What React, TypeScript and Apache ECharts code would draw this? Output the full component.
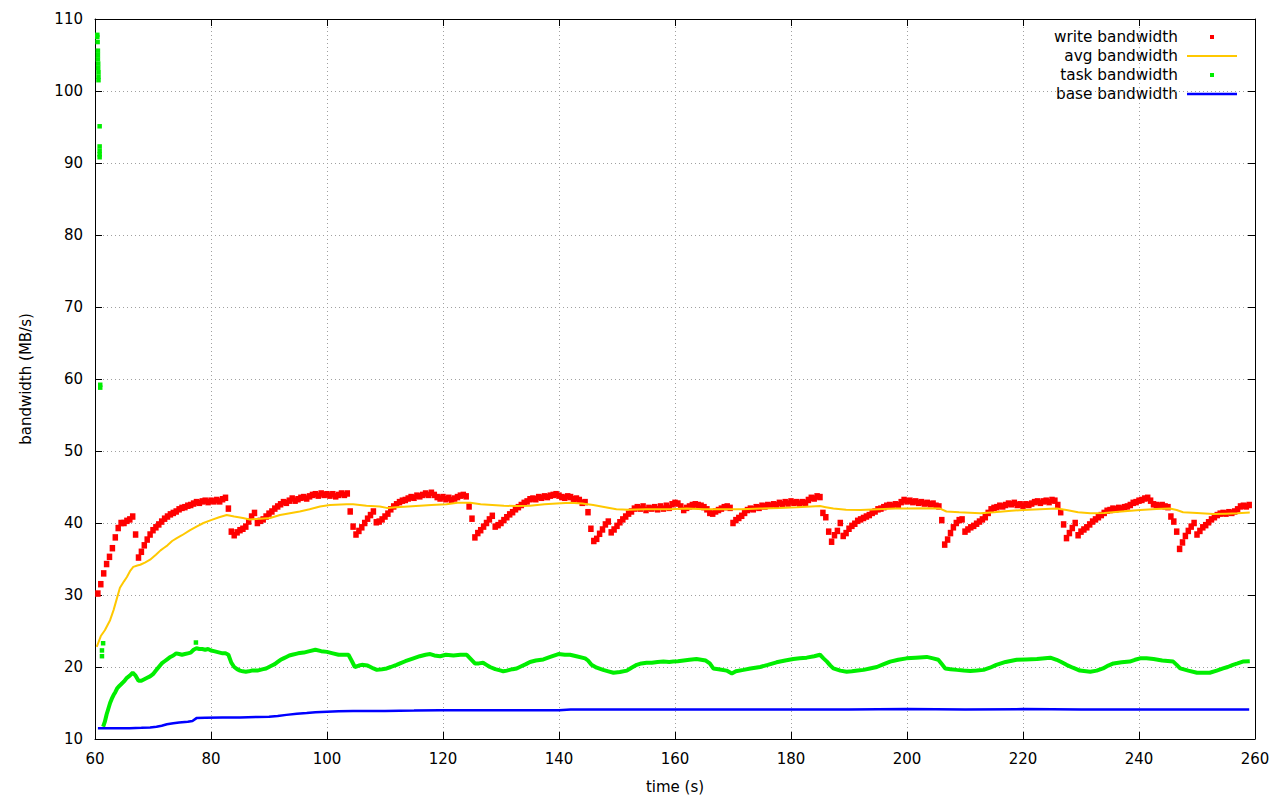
import React, { useEffect, useRef } from "react";
import * as echarts from "echarts";

// ---- data ----
const xTicks = { min: 60, max: 260, interval: 20 };
const yTicks = { min: 10, max: 110, interval: 10 };

// write bandwidth (MB/s), one sample every 0.5 s starting at 60.5 s
const writeStart = 60.5;
const writeStep = 0.5;
const writeBandwidth = [
  30.2, 31.5, 33.0, 34.3, 35.3, 36.5, 38.0, 39.3, 40.0, 40.0, 40.3, 40.5, 40.9, 38.4, 35.2, 36.0,
  36.9, 37.7, 38.4, 39.0, 39.4, 39.8, 40.2, 40.6, 40.9, 41.2, 41.4, 41.6, 41.9, 42.1, 42.2, 42.4,
  42.5, 42.7, 42.9, 42.8, 43.0, 43.1, 42.9, 43.1, 43.0, 43.2, 43.0, 43.3, 43.5, 42.0, 38.8, 38.3,
  38.7, 39.0, 39.2, 39.5, 40.2, 40.9, 41.4, 40.0, 40.3, 40.5, 40.9, 41.3, 41.6, 42.0, 42.3, 42.6,
  42.9, 42.8, 43.1, 43.4, 43.1, 43.3, 43.5, 43.6, 43.4, 43.7, 43.9, 44.0, 43.8, 44.1, 43.9, 44.0,
  43.8, 44.0, 43.7, 43.9, 44.1, 43.9, 44.1, 41.6, 39.5, 38.4, 38.9, 39.4, 40.0, 40.6, 41.1, 41.6,
  40.1, 40.2, 40.5, 40.9, 41.3, 41.9, 42.3, 42.6, 42.9, 43.1, 43.2, 43.4, 43.6, 43.5, 43.8, 43.7,
  43.9, 44.1, 43.9, 44.2, 43.9, 43.6, 43.4, 43.6, 43.3, 43.5, 43.2, 43.4, 43.6, 43.8, 43.9, 43.7,
  42.3, 40.6, 38.0, 38.6, 39.0, 39.5, 40.0, 40.5, 41.0, 39.5, 39.7, 40.0, 40.4, 40.8, 41.2, 41.5,
  41.9, 42.2, 42.5, 42.8, 43.0, 43.3, 43.4, 43.3, 43.6, 43.5, 43.7, 43.6, 43.8, 43.9, 44.0, 43.8,
  43.6, 43.5, 43.7, 43.6, 43.3, 43.4, 43.2, 42.8, 42.9, 41.5, 39.2, 37.5, 37.8, 38.5, 39.1, 39.8,
  40.2, 38.7, 39.1, 39.6, 40.1, 40.5, 40.9, 41.3, 41.6, 42.0, 42.2, 42.0, 42.3, 41.8, 42.1, 42.0,
  42.2, 41.9, 42.3, 42.0, 42.4, 42.1, 42.6, 42.8, 42.7, 42.3, 41.8, 42.1, 42.3, 42.5, 42.6, 42.5,
  42.4, 42.2, 41.9, 41.4, 41.3, 41.6, 41.8, 42.0, 42.2, 42.3, 42.1, 40.0, 40.4, 40.7, 41.0, 41.4,
  41.8, 42.0, 41.9, 42.2, 42.1, 42.4, 42.3, 42.5, 42.4, 42.6, 42.5, 42.8, 42.6, 42.9, 42.7, 43.0,
  42.8, 42.9, 42.7, 42.9, 42.8, 43.2, 43.5, 43.4, 43.7, 43.6, 41.4, 40.8, 38.8, 37.4, 38.3, 38.9,
  40.0, 38.2, 38.6, 39.2, 39.6, 39.9, 40.3, 40.5, 40.7, 40.9, 41.1, 41.4, 41.6, 41.9, 42.0, 42.2,
  42.4, 42.5, 42.4, 42.6, 42.5, 42.9, 43.2, 43.0, 43.1, 42.9, 43.0, 42.8, 42.9, 42.7, 42.8, 42.6,
  42.7, 42.4, 42.3, 40.4, 37.0, 37.7, 38.6, 39.4, 40.0, 40.4, 40.5, 38.8, 39.1, 39.4, 39.6, 39.9,
  40.2, 40.5, 40.8, 41.4, 41.9, 42.1, 42.2, 42.4, 42.3, 42.5, 42.7, 42.6, 42.8, 42.5, 42.6, 42.4,
  42.6, 42.5, 42.7, 42.9, 43.0, 42.8, 43.0, 43.1, 42.9, 43.2, 43.1, 42.5, 41.5, 39.8, 37.9, 38.6,
  39.3, 40.0, 38.3, 38.8, 39.1, 39.4, 39.8, 40.2, 40.5, 40.8, 41.1, 41.4, 41.7, 41.8, 42.0, 41.9,
  42.1, 42.0, 42.2, 42.3, 42.5, 42.8, 42.9, 43.1, 43.2, 43.4, 43.5, 43.1, 42.6, 42.5, 42.4, 42.5,
  42.3, 42.2, 40.9, 40.2, 38.8, 36.4, 37.3, 38.2, 38.9, 39.5, 40.0, 38.4, 38.9, 39.4, 39.7, 40.1,
  40.5, 40.8, 41.1, 41.3, 41.4, 41.3, 41.5, 41.4, 41.6, 41.9, 42.3, 42.4, 42.3, 42.5,
];

// avg bandwidth: [time s, MB/s]
const avgBandwidth = [
  [60.3, 22.8], [61, 24.3], [61.7, 25.1], [62.6, 26.5], [63.2, 27.9], [63.8, 29.6], [64.3, 31.0],
  [65, 31.9], [65.5, 32.5], [66.1, 33.4], [66.6, 33.9], [67.3, 34.1], [67.8, 34.2], [68.6, 34.5],
  [69.5, 34.9], [70.5, 35.6], [71.3, 36.2], [71.8, 36.5], [72.5, 36.9], [73.3, 37.5], [74.1, 37.9],
  [75, 38.3], [76.4, 39.0], [77.5, 39.5], [78.7, 40.0], [80, 40.4], [81.4, 40.8], [82.7, 41.1],
  [84, 40.9], [85.5, 40.7], [86.7, 40.5], [88.5, 40.6], [90.2, 40.7], [91.9, 41.1], [93.6, 41.35],
  [95.3, 41.6], [97, 41.9], [98.8, 42.3], [100.5, 42.5], [103.4, 42.6], [104.5, 42.6], [106.8, 42.4],
  [109.1, 42.3], [110.3, 42.1], [112, 42.2], [114, 42.3], [116, 42.4], [118, 42.5], [120.6, 42.6],
  [122.5, 42.8], [124.7, 42.8], [126.5, 42.6], [128.5, 42.5], [130.5, 42.4], [132.7, 42.35],
  [135, 42.4], [137.5, 42.6], [139.6, 42.7], [141.9, 42.8], [144, 42.7], [145.9, 42.5], [148, 42.2],
  [149.9, 41.9], [152, 41.85], [155, 41.9], [159.1, 41.9], [162, 42.0], [165, 41.9], [168.9, 41.9],
  [171.5, 41.9], [174.7, 42.0], [178, 42.1], [181, 42.2], [183.5, 42.3], [185, 42.35], [186, 42.2],
  [187.3, 42.0], [189.5, 41.85], [192, 41.8], [195, 41.9], [198, 42.0], [200, 42.0], [203, 42.05],
  [205.7, 42.0], [206.8, 41.6], [209, 41.5], [212.6, 41.35], [215, 41.5], [218, 41.7], [220.1, 41.8],
  [222.9, 41.9], [225.8, 42.0], [227.5, 41.8], [229.5, 41.5], [231.6, 41.35], [234, 41.4],
  [237, 41.6], [240.2, 41.8], [243, 41.95], [245.3, 42.0], [246.5, 41.8], [247.6, 41.5], [250, 41.4],
  [252.8, 41.25], [255, 41.3], [257, 41.35], [259.1, 41.45],
];

// task bandwidth: early outliers [time s, MB/s]
const taskOutliers = [
  [60.4, 107.8], [60.4, 107.5], [60.45, 106.8], [60.5, 105.6], [60.5, 105.0], [60.5, 104.4],
  [60.55, 103.8], [60.55, 103.2], [60.6, 102.6], [60.6, 102.0], [60.6, 101.5], [60.8, 95.1],
  [60.8, 92.3], [60.8, 91.7], [60.8, 91.2], [60.8, 90.8], [60.9, 59.2], [60.9, 58.8],
  [61.4, 23.3], [61.2, 22.3], [61.2, 21.5],
];

// task bandwidth: main trace [time s, MB/s]
const taskBandwidth = [
  [61.4, 11.7], [61.7, 12.4], [62.0, 13.4], [62.3, 14.2], [62.6, 15.0], [62.9, 15.6], [63.2, 16.1],
  [63.5, 16.5], [63.8, 17.0], [64.1, 17.3], [64.5, 17.6], [65.0, 18.0], [65.5, 18.5], [66.0, 18.8],
  [66.5, 19.2], [67.0, 18.8], [67.5, 18.1], [68.0, 18.1], [68.5, 18.3], [69.0, 18.5], [69.5, 18.7],
  [70.0, 19.0], [70.5, 19.5], [71.0, 20.0], [71.5, 20.5], [72.0, 20.8], [72.5, 21.1], [73.0, 21.4],
  [73.5, 21.6], [74.0, 21.9], [74.5, 21.8], [75.0, 21.7], [75.5, 21.8], [76.0, 21.9], [76.5, 22.0],
  [77.0, 22.4], [77.5, 22.6], [78.0, 22.5], [78.5, 22.5], [79.0, 22.4], [79.5, 22.5], [80.0, 22.3],
  [80.5, 22.2], [81.0, 22.1], [81.5, 22.0], [82.0, 21.9], [82.5, 21.9], [83.0, 21.7], [83.5, 20.6],
  [84.0, 20.0], [84.5, 19.7], [85.0, 19.5], [85.5, 19.4], [86.0, 19.35], [86.5, 19.4], [87.0, 19.5],
  [88.0, 19.5], [88.5, 19.6], [89.0, 19.7], [89.5, 19.8], [90.0, 20.0], [90.5, 20.2], [91.0, 20.4],
  [91.5, 20.7], [92.0, 21.0], [92.5, 21.2], [93.0, 21.4], [93.5, 21.6], [94, 21.7], [95, 21.9],
  [96, 22.0], [97, 22.2], [98, 22.4], [99, 22.2], [100, 22.1], [101, 21.9], [102, 21.7], [103, 21.7],
  [103.7, 21.7], [104.3, 20.8], [104.8, 20.0], [105.5, 20.2], [106, 20.3], [107, 20.2], [108, 19.8],
  [108.6, 19.6], [109.5, 19.7], [110.3, 19.8], [111, 20.0], [112, 20.3], [112.6, 20.5], [113.5, 20.8],
  [114.9, 21.2], [116, 21.5], [117, 21.7], [117.8, 21.8], [118.5, 21.6], [119.5, 21.5], [120.5, 21.7],
  [121.8, 21.6], [123, 21.7], [124.1, 21.7], [124.8, 21.1], [125.5, 20.5], [126.2, 20.5], [126.9, 20.6],
  [127.5, 20.3], [128.1, 20.0], [129, 19.7], [130, 19.5], [130.4, 19.4], [131, 19.5], [132, 19.7],
  [132.7, 19.8], [133.5, 20.1], [134.3, 20.4], [135, 20.7], [136, 20.9], [137.3, 21.05], [138.5, 21.4],
  [139.9, 21.8], [141, 21.7], [141.9, 21.7], [143, 21.5], [144.5, 21.2], [145, 20.9], [145.6, 20.3],
  [146.5, 19.9], [147.6, 19.6], [148.5, 19.4], [149.4, 19.2], [150.5, 19.3], [151.7, 19.5],
  [152.5, 19.9], [153.4, 20.3], [154.2, 20.5], [155.1, 20.6], [156, 20.6], [157, 20.7], [158, 20.75],
  [159, 20.7], [159.7, 20.75], [160.5, 20.8], [161.5, 20.9], [162.5, 21.0], [163.7, 21.1], [164.5, 21.0],
  [165.3, 20.9], [166, 20.5], [166.6, 19.8], [167.5, 19.7], [168.9, 19.5], [169.8, 19.1], [170.5, 19.4],
  [171.8, 19.6], [173, 19.8], [174.7, 20.0], [176, 20.3], [177.5, 20.65], [179, 20.9], [180.4, 21.1],
  [181.5, 21.2], [182.7, 21.3], [184, 21.5], [185, 21.7], [185.6, 21.2], [186.2, 20.75], [186.8, 20.2],
  [187.3, 19.8], [188.5, 19.5], [189.6, 19.35], [190.5, 19.4], [191.5, 19.5], [192.5, 19.6],
  [193.6, 19.8], [194.8, 20.0], [196, 20.4], [197.1, 20.75], [198.5, 21.0], [199.9, 21.2],
  [201.5, 21.3], [203.4, 21.4], [204.5, 21.2], [205.4, 21.0], [206, 20.4], [206.6, 19.8], [207.5, 19.7],
  [208.6, 19.6], [209.8, 19.5], [210.9, 19.45], [212, 19.5], [213.2, 19.6], [214.3, 19.9], [215.4, 20.3],
  [217, 20.7], [218.9, 21.0], [220.5, 21.05], [222.4, 21.1], [224.7, 21.3], [225.8, 21.0], [226.6, 20.7],
  [227.5, 20.3], [228.6, 19.9], [229.8, 19.5], [231.6, 19.35], [232.7, 19.5], [233.8, 19.8],
  [234.7, 20.2], [235.6, 20.5], [237, 20.65], [238.4, 20.75], [239.3, 21.0], [240.2, 21.2],
  [241.3, 21.2], [242.5, 21.1], [244, 20.9], [245.9, 20.75], [246.5, 20.3], [247.1, 19.8], [248.5, 19.5],
  [250, 19.2], [251, 19.2], [252.2, 19.2], [253.4, 19.5], [254.5, 19.8], [255.3, 20.0], [256.2, 20.3],
  [257, 20.5], [257.9, 20.75], [259.1, 20.8],
];
const taskSpike = [[77.4, 23.4]];

// base bandwidth: [time s, MB/s]
const baseBandwidth = [
  [60.5, 11.5], [63, 11.5], [66, 11.5], [68, 11.55], [69.5, 11.6], [70.6, 11.7], [71.5, 11.85],
  [72.4, 12.05], [73.5, 12.2], [74.5, 12.3], [76, 12.4], [76.8, 12.5], [77.5, 12.9], [79, 12.95],
  [82, 13.0], [85, 13.0], [88, 13.05], [90, 13.1], [91.5, 13.2], [93, 13.35], [94.8, 13.5],
  [96.5, 13.6], [98, 13.7], [100, 13.8], [102, 13.85], [104.5, 13.9], [110, 13.9], [115, 13.95],
  [119.5, 14.0], [125, 14.0], [130, 14.0], [135, 14.0], [140, 14.0], [142, 14.1], [150, 14.1],
  [160, 14.1], [170, 14.1], [180, 14.1], [190, 14.1], [200, 14.15], [210, 14.1], [220, 14.15],
  [230, 14.1], [240, 14.1], [250, 14.1], [259, 14.1],
];

const seriesNames = ["write bandwidth", "avg bandwidth", "task bandwidth", "base bandwidth"];
const seriesColors = ["#ff0000", "#ffc800", "#00ee00", "#0000ff"];

const FONT = "DejaVu Sans";

export default function App() {
  const ref = useRef<HTMLDivElement>(null);

  useEffect(() => {
    if (!ref.current) return;
    const chart = echarts.init(ref.current, undefined, { renderer: "svg" });

    const writeData = writeBandwidth.map((v, i) => [writeStart + i * writeStep, v]);

    const axisLine = { show: true, onZero: false, lineStyle: { color: "#000", width: 1 } };
    const axisTick = { show: true, inside: true, length: 7, lineStyle: { color: "#000", width: 1 } };
    const splitLine = { show: true, lineStyle: { color: "#a0a0a0", width: 1, type: [1, 3] } };
    const label = { color: "#000", fontFamily: FONT, fontSize: 15 };

    const legendRows = [37, 56, 75, 94];
    const legendGraphics: any[] = [];
    seriesNames.forEach((name, i) => {
      legendGraphics.push({
        type: "text",
        x: 1178,
        y: legendRows[i],
        style: {
          text: name,
          fill: "#000",
          font: `15.3px "${FONT}"`,
          textAlign: "right",
          textVerticalAlign: "middle",
        },
      });
      if (i === 0 || i === 2) {
        legendGraphics.push({
          type: "rect",
          shape: { x: 1210, y: legendRows[i] - 2, width: 4, height: 4 },
          style: { fill: seriesColors[i] },
        });
      } else {
        legendGraphics.push({
          type: "line",
          shape: { x1: 1187, y1: legendRows[i], x2: 1237, y2: legendRows[i] },
          style: { stroke: seriesColors[i], lineWidth: i === 1 ? 2 : 2.5 },
        });
      }
    });

    chart.setOption({
      animation: false,
      backgroundColor: "#fff",
      textStyle: { fontFamily: FONT },
      grid: { left: 95, right: 25, top: 19, bottom: 61, containLabel: false },
      xAxis: [
        {
          type: "value",
          position: "bottom",
          min: xTicks.min,
          max: xTicks.max,
          interval: xTicks.interval,
          name: "time (s)",
          nameLocation: "middle",
          nameGap: 40,
          nameTextStyle: { color: "#000", fontFamily: FONT, fontSize: 15 },
          axisLine,
          axisTick,
          axisLabel: { ...label, margin: 12 },
          splitLine,
        },
        {
          type: "value",
          position: "top",
          min: xTicks.min,
          max: xTicks.max,
          interval: xTicks.interval,
          axisLine,
          axisTick,
          axisLabel: { show: false },
          splitLine: { show: false },
        },
      ],
      yAxis: [
        {
          type: "value",
          position: "left",
          min: yTicks.min,
          max: yTicks.max,
          interval: yTicks.interval,
          name: "bandwidth (MB/s)",
          nameLocation: "middle",
          nameGap: 62,
          nameTextStyle: { color: "#000", fontFamily: FONT, fontSize: 15 },
          axisLine,
          axisTick,
          axisLabel: { ...label, margin: 12 },
          splitLine,
        },
        {
          type: "value",
          position: "right",
          min: yTicks.min,
          max: yTicks.max,
          interval: yTicks.interval,
          axisLine,
          axisTick,
          axisLabel: { show: false },
          splitLine: { show: false },
        },
      ],
      graphic: legendGraphics,
      series: [
        {
          name: seriesNames[0],
          type: "scatter",
          data: writeData,
          symbol: "rect",
          symbolSize: [5.5, 6.5],
          itemStyle: { color: seriesColors[0], opacity: 1 },
          silent: true,
        },
        {
          name: seriesNames[1],
          type: "line",
          data: avgBandwidth,
          showSymbol: false,
          lineStyle: { color: seriesColors[1], width: 2 },
          silent: true,
        },
        {
          name: seriesNames[2],
          type: "line",
          data: taskBandwidth,
          showSymbol: false,
          lineStyle: { color: seriesColors[2], width: 4 },
          silent: true,
        },
        {
          name: seriesNames[2],
          type: "scatter",
          data: [...taskOutliers, ...taskSpike],
          symbol: "rect",
          symbolSize: 4.5,
          itemStyle: { color: seriesColors[2], opacity: 1 },
          silent: true,
        },
        {
          name: seriesNames[3],
          type: "line",
          data: baseBandwidth,
          showSymbol: false,
          lineStyle: { color: seriesColors[3], width: 2.5 },
          silent: true,
        },
      ],
    });

    return () => chart.dispose();
  }, []);

  return (
    <div
      ref={ref}
      style={{ position: "fixed", left: 0, top: 0, width: 1280, height: 800, background: "#fff" }}
    />
  );
}
